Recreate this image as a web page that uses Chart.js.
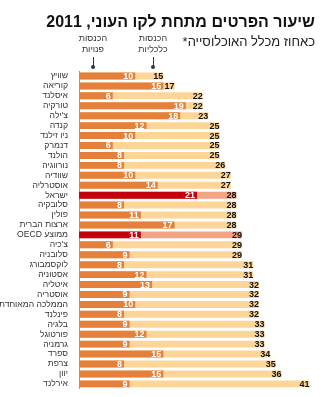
<!DOCTYPE html>
<html lang="he">
<head>
<meta charset="utf-8">
<script src="https://cdn.jsdelivr.net/npm/chart.js@4.4.0/dist/chart.umd.min.js"></script>
<style>
  html, body { margin: 0; padding: 0; background: #fff; }
  #wrap { position: relative; width: 324px; height: 397px; overflow: hidden;
          font-family: "Liberation Sans", Arial, sans-serif; color: #222; }
  #wrap canvas { position: absolute; left: 0; top: 0; }
  .txt { position: absolute; direction: rtl; white-space: nowrap; }
  .title { right: 9px; top: 12px; font-size: 16px; line-height: 20px; font-weight: bold; color: #111; }
  .sub { right: 9px; top: 34px; font-size: 13px; line-height: 16px; color: #222; }
  .note { font-size: 9px; line-height: 11px; text-align: center; color: #333; width: 50px; }
  .stem { position: absolute; width: 1px; background: #333; top: 57px; height: 10px; }
  .dot { position: absolute; width: 4px; height: 4px; border-radius: 50%; background: #333; top: 65px; }
</style>
</head>
<body>
<div id="wrap">
  <canvas id="chart" dir="rtl"></canvas>
  <div class="txt title">שיעור הפרטים מתחת לקו העוני, 2011</div>
  <div class="txt sub">כאחוז מכלל האוכלוסייה*</div>
  <div class="txt note" style="left:128px; top:33px">הכנסות<br>כלכליות</div>
  <div class="txt note" style="left:68px; top:33px">הכנסות<br>פנויות</div>
  <div class="stem" style="left:153px"></div><div class="dot" style="left:151px"></div>
  <div class="stem" style="left:93px"></div><div class="dot" style="left:91px"></div>
</div>
<script>
// categories, top to bottom
const countries = [
  'שוויץ', 'קוריאה', 'איסלנד', 'טורקיה', "צ'ילה", 'קנדה', 'ניו זילנד', 'דנמרק',
  'הולנד', 'נורווגיה', 'שוודיה', 'אוסטרליה', 'ישראל', 'סלובקיה', 'פולין', 'ארצות הברית',
  'ממוצע OECD', "צ'כיה", 'סלובניה', 'לוקסמבורג', 'אסטוניה', 'איטליה', 'אוסטריה', 'הממלכה המאוחדת',
  'פינלנד', 'בלגיה', 'פורטוגל', 'גרמניה', 'ספרד', 'צרפת', 'יוון', 'אירלנד'
];
// הכנסות פנויות (disposable income)
const disposable = [
  10, 15, 6, 19, 18, 12, 10, 6,
  8, 8, 10, 14, 21, 8, 11, 17,
  11, 6, 9, 8, 12, 13, 9, 10,
  8, 9, 12, 9, 15, 8, 15, 9
];
// הכנסות כלכליות (market income)
const market = [
  15, 17, 22, 22, 23, 25, 25, 25,
  25, 26, 27, 27, 28, 28, 28, 28,
  29, 29, 29, 31, 31, 32, 32, 32,
  32, 33, 33, 33, 34, 35, 36, 41
];
const highlighted = ['ישראל', 'ממוצע OECD'];

const isHi = ctx => highlighted.includes(countries[ctx.dataIndex]);

const valueLabels = {
  id: 'valueLabels',
  afterDatasetsDraw(chart) {
    const ctx = chart.ctx;
    ctx.save();
    ctx.font = 'bold 9px "Liberation Sans", Arial, sans-serif';
    ctx.textAlign = 'right';
    ctx.textBaseline = 'middle';
    chart.data.datasets.forEach((ds, di) => {
      chart.getDatasetMeta(di).data.forEach((bar, i) => {
        ctx.fillStyle = di === 0 ? '#fff' : '#111';
        ctx.fillText(String(ds.data[i]), bar.x - (di === 0 ? 2 : 0), bar.y + 0.5);
      });
    });
    ctx.restore();
  }
};

new Chart(document.getElementById('chart'), {
  type: 'bar',
  data: {
    labels: countries,
    datasets: [
      {
        label: 'הכנסות פנויות',
        data: disposable,
        backgroundColor: c => isHi(c) ? '#C2000E' : '#E4803A',
      },
      {
        label: 'הכנסות כלכליות',
        data: market,
        backgroundColor: c => isHi(c) ? '#F4A482' : '#FCD597',
      }
    ]
  },
  options: {
    indexAxis: 'y',
    responsive: true,
    maintainAspectRatio: false,
    animation: false,
    grouped: false,
    barPercentage: 0.7,
    categoryPercentage: 1,
    layout: { padding: { top: 71, right: 6, bottom: 0, left: 0 } },
    plugins: { legend: { display: false }, tooltip: { enabled: false } },
    scales: {
      x: { display: false, min: 0, max: 42.5 },
      y: {
        grid: { display: false },
        border: { display: true, color: '#999', width: 1 },
        ticks: {
          color: '#333',
          padding: 3,
          autoSkip: false,
          font: { family: '"Liberation Sans", Arial, sans-serif', size: 8.6 }
        },
        afterFit: s => { s.width = 79; }
      }
    }
  },
  plugins: [valueLabels]
});
</script>
</body>
</html>
